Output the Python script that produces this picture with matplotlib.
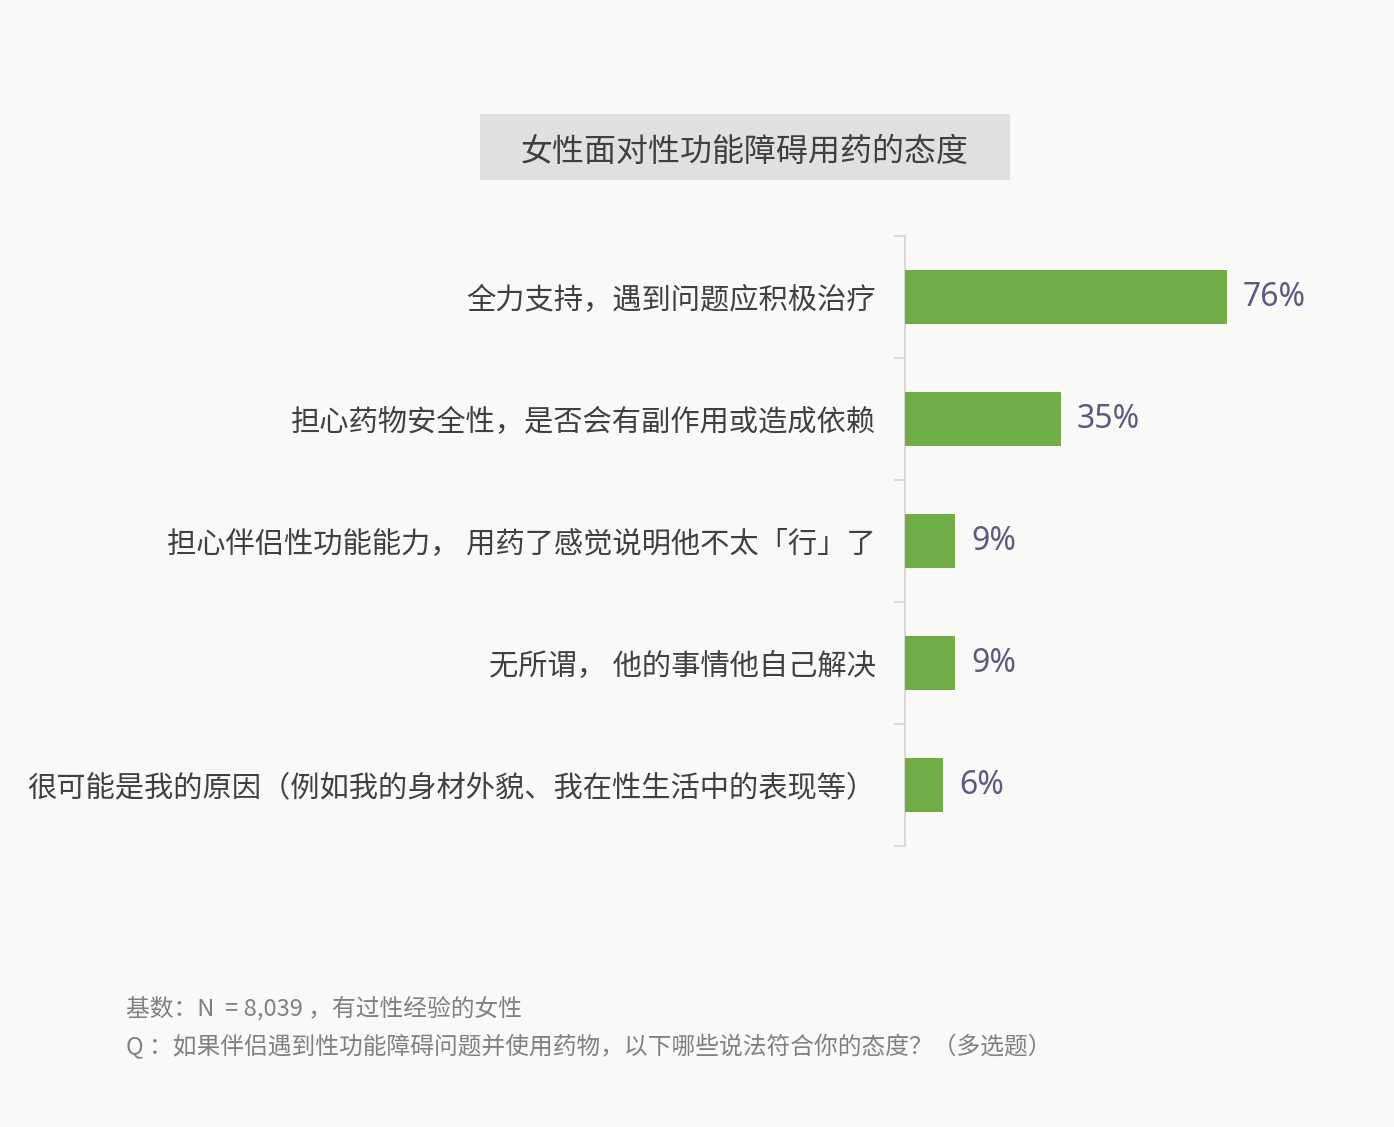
import matplotlib
matplotlib.use("Agg")
import matplotlib.pyplot as plt
from matplotlib.patches import Rectangle

plt.rcParams['font.family'] = ['Noto Sans CJK SC', 'DejaVu Sans']

# data
categories = [
    "全力支持，遇到问题应积极治疗",
    "担心药物安全性，是否会有副作用或造成依赖",
    "担心伴侣性功能能力， 用药了感觉说明他不太「行」了",
    "无所谓， 他的事情他自己解决",
    "很可能是我的原因（例如我的身材外貌、我在性生活中的表现等）",
]
values = [76, 35, 9, 9, 6]
value_labels = ["76%", "35%", "9%", "9%", "6%"]

title = "女性面对性功能障碍用药的态度"
note1 = "基数：N  = 8,039 ，有过性经验的女性"
note2 = "Q ：如果伴侣遇到性功能障碍问题并使用药物，以下哪些说法符合你的态度？（多选题）"

W, H = 1394, 1127
bg = '#f9faf8'
fig = plt.figure(figsize=(W / 100, H / 100), dpi=100, facecolor=bg)

# axes placed by pixel box
ax_left, ax_top, ax_bot, ax_w = 905, 236, 846, 425
px_per_unit = 4.055
x0 = -3.4  # axis starts a little below zero, like the source chart
ax = fig.add_axes([ax_left / W, 1 - ax_bot / H, ax_w / W, (ax_bot - ax_top) / H])
ax.set_facecolor(bg)

y = list(range(len(categories)))
ax.barh(y, [v - x0 for v in values], left=x0, height=0.45,
        color='#70ad47', zorder=3)
ax.set_xlim(x0, x0 + ax_w / px_per_unit)
ax.set_ylim(len(categories) - 0.5, -0.5)

for yi, v, lab in zip(y, values, value_labels):
    ax.text(v + 3.9, yi, lab, va='center', ha='left', fontsize=23,
            color='#5d5a7e', family=['Noto Sans', 'DejaVu Sans'])

# separator ticks at category boundaries
ax.set_yticks([i - 0.5 for i in range(len(categories) + 1)])
ax.set_yticklabels([])
ax.tick_params(axis='y', which='major', length=8, width=1.5, color='#d9d9d9')
ax.set_yticks(y, minor=True)
ax.set_yticklabels(categories, minor=True, fontsize=21.1, color='#404040')
ax.tick_params(axis='y', which='minor', length=0, pad=21)
ax.set_xticks([])

for s in ['top', 'right', 'bottom']:
    ax.spines[s].set_visible(False)
ax.spines['left'].set_color('#d9d9d9')
ax.spines['left'].set_linewidth(1.5)

# title box
fig.patches.append(Rectangle((480 / W, 1 - 180 / H), 530 / W, 66 / H,
                             transform=fig.transFigure, facecolor='#e0e0e0',
                             edgecolor='none', zorder=0))
fig.text(745 / W, 1 - 152 / H, title, ha='center', va='center',
         fontsize=23, color='#404040')

# notes
fig.text(126 / W, 1 - 1008 / H, note1, ha='left', va='center',
         fontsize=17.1, color='#808080')
fig.text(126 / W, 1 - 1047 / H, note2, ha='left', va='center',
         fontsize=17.1, color='#808080')

fig.savefig('out.png', dpi=100, facecolor=bg)
